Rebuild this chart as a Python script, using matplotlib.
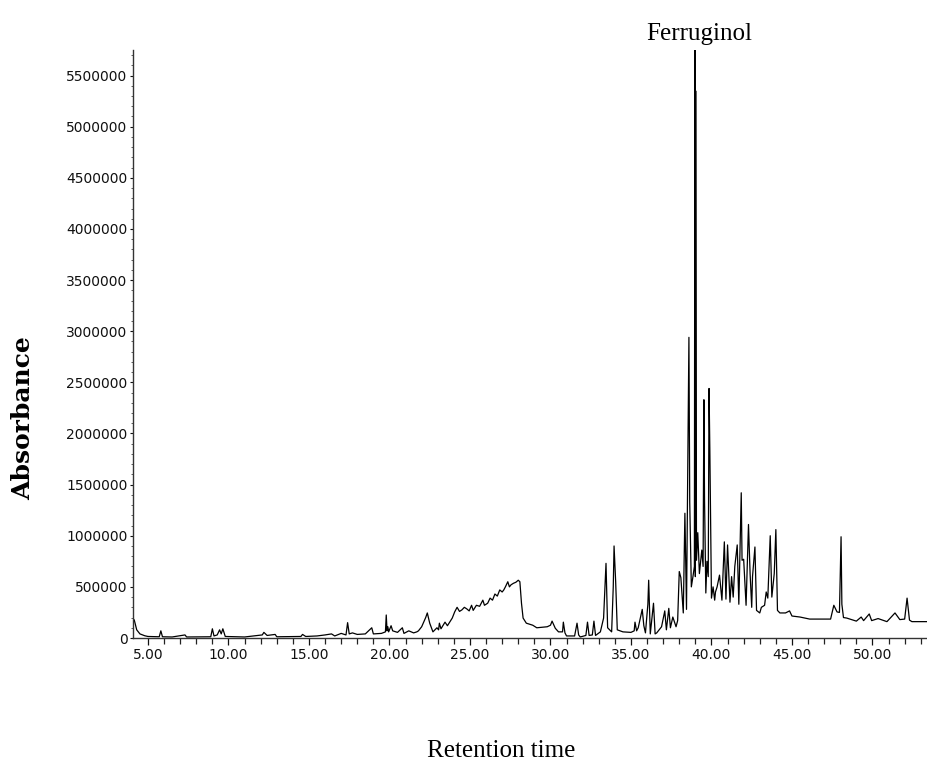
import matplotlib
matplotlib.use("Agg")
import matplotlib.pyplot as plt
from matplotlib.ticker import MultipleLocator, FormatStrFormatter

# chromatogram trace: retention time (min) / signal
rt = [
    4.07, 4.15, 4.3, 4.5, 4.8, 5.0, 5.7, 5.8, 5.9, 6.5, 7.3, 7.4, 8.9, 9.0, 9.1,
    9.3, 9.45, 9.55, 9.65, 9.8, 11.0, 12.1, 12.2, 12.4, 12.9, 13.0, 14.5, 14.6,
    14.8, 15.5, 16.0, 16.4, 16.6, 17.0, 17.3, 17.4, 17.5, 17.7, 18.0, 18.5, 18.9,
    19.0, 19.5, 19.75, 19.8, 19.85, 19.9, 19.95, 20.1, 20.2, 20.5, 20.8, 20.9,
    21.2, 21.5, 21.7, 21.8, 22.0, 22.25, 22.35, 22.5, 22.7, 22.95, 23.05, 23.1,
    23.2, 23.45, 23.6, 23.9, 24.05, 24.2, 24.35, 24.5, 24.65, 24.8, 24.95, 25.1,
    25.2, 25.4, 25.6, 25.8, 25.9, 26.1, 26.25, 26.4, 26.55, 26.7, 26.85, 27.0,
    27.1, 27.2, 27.35, 27.45, 27.55, 27.7, 27.85, 28.0, 28.1, 28.2, 28.3, 28.5,
    28.9, 29.15, 29.8, 30.0, 30.1, 30.3, 30.5, 30.75, 30.8, 30.9, 31.0, 31.5,
    31.65, 31.75, 31.85, 32.2, 32.3, 32.4, 32.6, 32.7, 32.8, 33.1, 33.3, 33.45,
    33.55, 33.8, 33.9, 33.95, 34.05, 34.15, 34.5, 35.0, 35.2, 35.25, 35.35,
    35.45, 35.7, 35.8, 35.9, 36.05, 36.1, 36.2, 36.4, 36.5, 36.6, 36.9, 37.1,
    37.2, 37.35, 37.45, 37.6, 37.8, 37.9, 38.0, 38.1, 38.25, 38.35, 38.45, 38.6,
    38.65, 38.75, 38.85, 38.94, 38.97, 39.0, 39.02, 39.07, 39.15, 39.25, 39.4,
    39.48, 39.53, 39.57, 39.65, 39.72, 39.8, 39.85, 39.9, 40.0, 40.1, 40.2,
    40.25, 40.35, 40.5, 40.65, 40.8, 40.9, 41.0, 41.15, 41.25, 41.35, 41.45,
    41.6, 41.7, 41.85, 41.9, 42.0, 42.15, 42.3, 42.4, 42.5, 42.55, 42.7, 42.8,
    43.0, 43.1, 43.3, 43.4, 43.5, 43.65, 43.75, 43.9, 44.0, 44.1, 44.25, 44.6,
    44.85, 45.0, 45.5, 46.1, 47.4, 47.6, 47.8, 47.95, 48.05, 48.1, 48.2, 48.4,
    49.0, 49.3, 49.45, 49.8, 49.95, 50.35, 50.9, 51.4, 51.7, 52.0, 52.15, 52.3,
    52.45, 53.45,
]
signal = [
    190000, 175000, 80000, 40000, 22000, 15000, 12000, 70000, 12000, 10000,
    30000, 10000, 12000, 90000, 20000, 30000, 80000, 40000, 90000, 15000,
    10000, 30000, 55000, 25000, 35000, 12000, 15000, 35000, 15000, 20000,
    30000, 40000, 20000, 45000, 30000, 150000, 40000, 50000, 35000, 40000,
    100000, 40000, 45000, 60000, 225000, 70000, 110000, 60000, 120000, 70000,
    55000, 100000, 45000, 70000, 50000, 60000, 70000, 110000, 200000, 245000,
    145000, 60000, 100000, 80000, 145000, 90000, 155000, 120000, 195000, 255000,
    300000, 260000, 275000, 300000, 285000, 265000, 320000, 270000, 320000,
    310000, 370000, 320000, 340000, 390000, 370000, 430000, 410000, 470000,
    450000, 470000, 500000, 550000, 500000, 520000, 535000, 545000, 565000,
    550000, 340000, 195000, 145000, 125000, 100000, 110000, 125000, 165000,
    95000, 60000, 60000, 155000, 50000, 20000, 20000, 145000, 30000, 10000,
    25000, 155000, 25000, 30000, 165000, 25000, 60000, 195000, 730000, 100000,
    60000, 500000, 900000, 550000, 80000, 60000, 55000, 70000, 155000, 70000,
    100000, 280000, 120000, 50000, 330000, 565000, 40000, 340000, 40000,
    50000, 110000, 265000, 80000, 290000, 100000, 205000, 110000, 170000,
    650000, 590000, 245000, 1220000, 280000, 2940000, 1330000, 500000, 600000,
    700000, 5750000, 600000, 5350000, 760000, 1030000, 630000, 860000, 700000,
    2330000, 1350000, 440000, 750000, 600000, 2440000, 1830000, 390000, 500000,
    370000, 450000, 500000, 615000, 370000, 940000, 380000, 910000, 350000,
    600000, 400000, 700000, 910000, 330000, 1420000, 760000, 770000, 320000,
    1110000, 630000, 300000, 600000, 890000, 270000, 245000, 300000, 320000,
    450000, 390000, 1000000, 400000, 630000, 1060000, 270000, 245000, 245000,
    265000, 215000, 205000, 185000, 185000, 320000, 255000, 250000, 990000,
    330000, 200000, 195000, 165000, 205000, 170000, 235000, 170000, 190000,
    160000, 245000, 180000, 185000, 390000, 175000, 160000, 160000,
]

x_ticks = [5, 10, 15, 20, 25, 30, 35, 40, 45, 50]
y_ticks = [0, 500000, 1000000, 1500000, 2000000, 2500000, 3000000,
           3500000, 4000000, 4500000, 5000000, 5500000]

W, H = 928, 765
fig = plt.figure(figsize=(W / 100, H / 100), dpi=100)
ax = fig.add_axes([133 / W, 1 - 638 / H, (W - 133) / W, (638 - 50) / H])

ax.plot(rt, signal, color="black", lw=0.9)

ax.set_xlim(4.07, 53.45)
ax.set_ylim(0, 5750000)

for side in ("top", "right"):
    ax.spines[side].set_visible(False)
for side in ("left", "bottom"):
    ax.spines[side].set_color("#333333")
    ax.spines[side].set_linewidth(1.0)

ax.set_xticks(x_ticks)
ax.xaxis.set_major_formatter(FormatStrFormatter("%.2f"))
ax.xaxis.set_minor_locator(MultipleLocator(1))
ax.set_yticks(y_ticks)
ax.set_yticklabels([str(v) for v in y_ticks])
ax.yaxis.set_minor_locator(MultipleLocator(100000))

ax.tick_params(axis="x", which="major", direction="out", length=5,
               width=0.9, pad=2, labelsize=10, colors="#111111")
ax.tick_params(axis="x", which="minor", direction="out", length=4,
               width=0.9, colors="#222222")
ax.tick_params(axis="y", which="major", direction="out", length=2,
               width=0.8, pad=2, labelsize=10, colors="#111111")
ax.tick_params(axis="y", which="minor", direction="out", length=1.5,
               width=0.6, colors="#444444")

fig.text(23 / W, 1 - 418 / H, "Absorbance", rotation=90, ha="center",
         va="center", family="DejaVu Serif", fontweight="bold", fontsize=18)
fig.text(501 / W, 1 - 757 / H, "Retention time", ha="center",
         va="baseline", family="Liberation Serif", fontsize=18)
fig.text(699 / W, 1 - 40 / H, "Ferruginol", ha="center", va="baseline",
         family="Liberation Serif", fontsize=18)

fig.savefig("out.png", dpi=100)
